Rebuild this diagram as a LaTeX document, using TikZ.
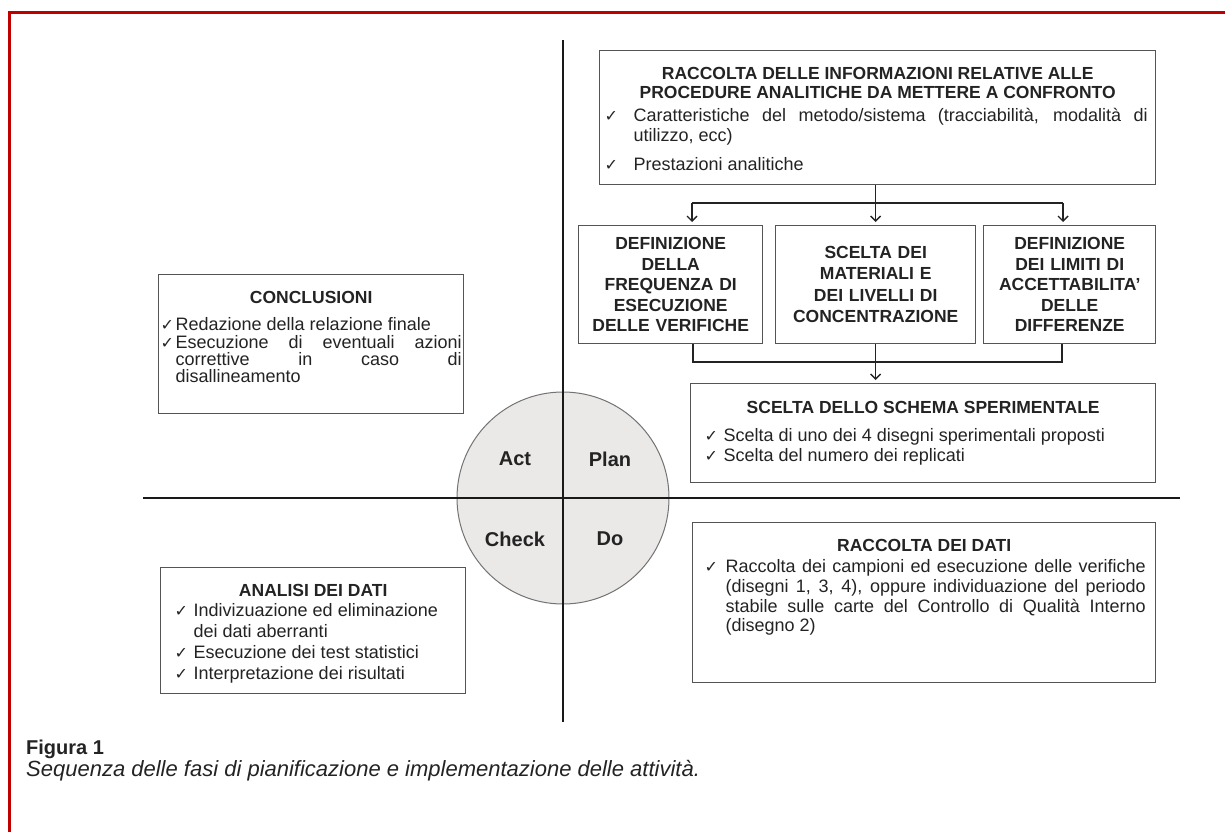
\documentclass[tikz,border=0pt]{standalone}
\usepackage{fontspec}
\setmainfont{Liberation Sans}
\newfontfamily\symfont{DejaVu Sans}
\usetikzlibrary{arrows.meta}

\definecolor{framered}{RGB}{192,0,0}
\definecolor{boxline}{RGB}{85,85,85}
\definecolor{ink}{RGB}{35,35,35}
\definecolor{pdcafill}{RGB}{235,233,232}

\newcommand{\titlefont}{\fontsize{17.5}{19}\selectfont\bfseries}
\newcommand{\bodyfont}{\fontsize{18}{20}\selectfont\mdseries}
\newcommand{\chk}{{\symfont\fontsize{16}{16}\selectfont ✓}}
\newcommand{\chkitem}[1]{\par\hangindent=#1\hangafter=1\noindent\makebox[#1][l]{\chk}}

\begin{document}
\begin{tikzpicture}[x=1pt,y=-1pt]
\tikzstyle{panel}=[draw=boxline, line width=1.4pt, inner sep=0pt, anchor=north west, align=justify, text=ink]
\tikzstyle{phase}=[draw=boxline, line width=1.4pt, inner sep=0pt, anchor=north west, align=center, text=ink]
\tikzstyle{link}=[line width=1.4pt, draw=ink]
\tikzstyle{arr}=[link, -{Straight Barb[length=5pt,width=10pt]}, shorten >=3pt]
\tikzstyle{axis}=[line width=1.8pt, draw=black!90]
\tikzstyle{pdca}=[font=\fontsize{20}{20}\selectfont\bfseries, text=ink, inner sep=0pt]
\useasboundingbox (0,0) rectangle (1225,832);
\draw[framered, line width=3pt] (9,832) -- (9,13) -- (1225,13);

\node[circle, draw=black!55, line width=1pt, fill=pdcafill, minimum size=212pt, inner sep=0pt] (cycle) at (563,498) {};
\coordinate (vtop) at (563,40);
\coordinate (vbot) at (563,722);
\coordinate (hleft) at (143,498);
\coordinate (hright) at (1180,498);
\draw[axis] (vtop) -- (vbot);
\draw[axis] (hleft) -- (hright);
\node[pdca] (act) at (515,459) {Act};
\node[pdca] (plan) at (610,459) {Plan};
\node[pdca] (check) at (515,539) {Check};
\node[pdca] (do) at (610,539) {Do};

\node[panel, text width=556pt, minimum height=134pt] (info) at (599,50) {%
  \vbox to 134pt{\titlefont
    \centerline{\vrule height 29pt width 0pt RACCOLTA DELLE INFORMAZIONI RELATIVE ALLE}
    \centerline{PROCEDURE ANALITICHE DA METTERE A CONFRONTO}
    \bodyfont\leftskip=5pt\rightskip=8pt
    \vskip 3pt
    \chkitem{29pt}Caratteristiche del metodo/sistema (tracciabilità, modalità di \linebreak utilizzo, ecc)
    \vskip 9pt
    \chkitem{29pt}Prestazioni analitiche\par
    \vfil}};

\node[phase, text width=184pt, minimum height=118pt, font=\fontsize{17.5}{20.5}\selectfont\bfseries] (freq) at (578,225)
  {DEFINIZIONE\\DELLA\\FREQUENZA DI\\ESECUZIONE\\DELLE VERIFICHE};
\node[phase, text width=200pt, minimum height=118pt, font=\fontsize{17.5}{21.5}\selectfont\bfseries] (mat) at (775,225)
  {SCELTA DEI\\MATERIALI E\\DEI LIVELLI DI\\CONCENTRAZIONE};
\node[phase, text width=172pt, minimum height=118pt, font=\fontsize{17.5}{20.5}\selectfont\bfseries] (lim) at (983,225)
  {DEFINIZIONE\\DEI LIMITI DI\\ACCETTABILITA'\\DELLE\\DIFFERENZE};

\node[panel, text width=465pt, minimum height=99pt] (schema) at (690,383) {%
  \vbox to 99pt{\titlefont
    \centerline{\vrule height 30pt width 0pt SCELTA DELLO SCHEMA SPERIMENTALE}
    \bodyfont\leftskip=14pt\rightskip=8pt
    \vskip 8pt
    \chkitem{19pt}Scelta di uno dei 4 disegni sperimentali proposti
    \chkitem{19pt}Scelta del numero dei replicati\par
    \vfil}};

\node[panel, text width=463pt, minimum height=160pt] (dati) at (692,522) {%
  \vbox to 160pt{\titlefont
    \centerline{\vrule height 29pt width 0pt RACCOLTA DEI DATI}
    \fontsize{18}{19.7}\selectfont\mdseries\leftskip=12pt\rightskip=10pt
    \vskip 1.3pt
    \chkitem{21pt}Raccolta dei campioni ed esecuzione delle verifiche \linebreak (disegni 1, 3, 4), oppure individuazione del periodo \linebreak stabile sulle carte del Controllo di Qualità Interno \linebreak (disegno 2)\par
    \vfil}};

\node[panel, text width=305pt, minimum height=139pt] (concl) at (158,274) {%
  \vbox to 139pt{\titlefont
    \centerline{\vrule height 29pt width 0pt CONCLUSIONI}
    \fontsize{18}{17.3}\selectfont\mdseries\leftskip=2pt\rightskip=2pt
    \vskip 9.7pt
    \chkitem{15pt}Redazione della relazione finale
    \chkitem{15pt}Esecuzione di eventuali azioni \linebreak correttive in caso di \linebreak disallineamento\par
    \vfil}};

\node[panel, text width=305pt, minimum height=126pt] (analisi) at (160,567) {%
  \vbox to 126pt{\titlefont
    \centerline{\vrule height 29pt width 0pt ANALISI DEI DATI}
    \fontsize{18}{21}\selectfont\mdseries\leftskip=14pt\rightskip=0pt plus 1fil
    \vskip -1.5pt
    \chkitem{19pt}Indivizuazione ed eliminazione\newline dei dati aberranti
    \chkitem{19pt}Esecuzione dei test statistici
    \chkitem{19pt}Interpretazione dei risultati\par
    \vfil}};

\coordinate (splitA) at (692,203);
\coordinate (splitC) at (1063,203);
\coordinate (joinA) at (693,362);
\coordinate (joinC) at (1062,362);
\draw[link] (mat.north |- info.south) -- (mat.north |- splitA);
\draw[link] (splitA) -- (splitC);
\draw[arr] (splitA) -- (splitA |- freq.north);
\draw[arr] (mat.north |- splitA) -- (mat.north);
\draw[arr] (splitC) -- (splitC |- lim.north);
\draw[link] (joinA |- freq.south) -- (joinA) -- (joinC) -- (joinC |- lim.south);
\draw[arr] (mat.south) -- (mat.south |- schema.north);

\node[anchor=base west, font=\fontsize{20}{20}\selectfont\bfseries, text=ink, inner sep=0pt] (fig) at (26,754) {Figura 1};
\node[anchor=base west, font=\fontsize{22}{22}\selectfont\itshape, text=ink, inner sep=0pt] (caption) at (26,776)
  {Sequenza delle fasi di pianificazione e implementazione delle attività.};
\end{tikzpicture}
\end{document}
